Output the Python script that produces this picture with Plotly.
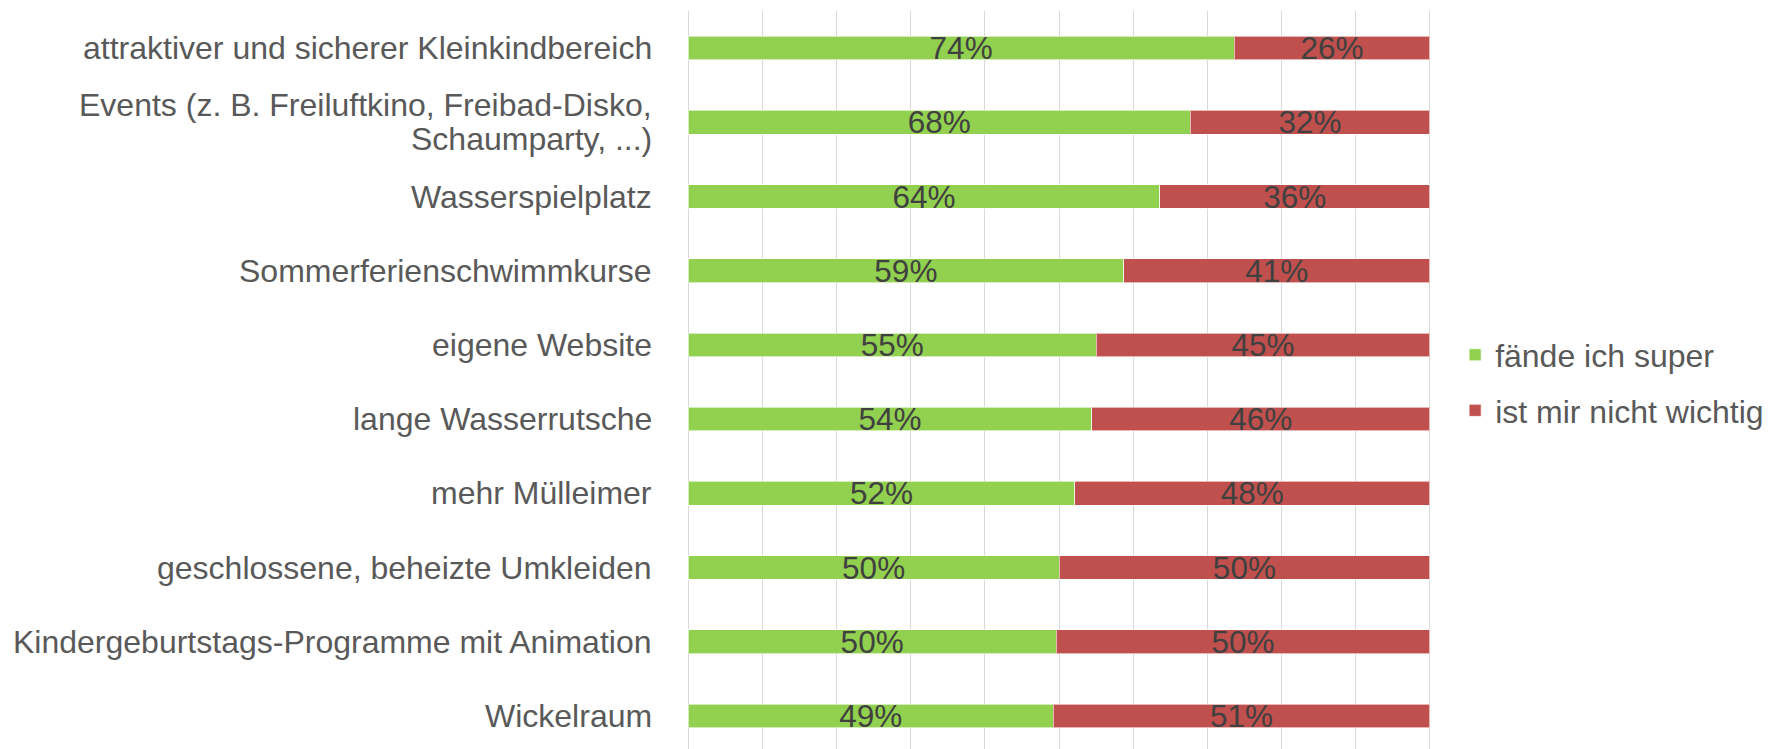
import plotly.graph_objects as go

categories = [
    "attraktiver und sicherer Kleinkindbereich",
    "Events (z. B. Freiluftkino, Freibad-Disko,<br>Schaumparty, ...)",
    "Wasserspielplatz",
    "Sommerferienschwimmkurse",
    "eigene Website",
    "lange Wasserrutsche",
    "mehr Mülleimer",
    "geschlossene, beheizte Umkleiden",
    "Kindergeburtstags-Programme mit Animation",
    "Wickelraum",
]
super_vals = [73.6, 67.7, 63.6, 58.7, 55.0, 54.4, 52.1, 50.0, 49.6, 49.2]
nicht_vals = [26.4, 32.3, 36.4, 41.3, 45.0, 45.6, 47.9, 50.0, 50.4, 50.8]
series_names = ["fände ich super", "ist mir nicht wichtig"]
colors = ["#92D050", "#C0504D"]

FONT = "Liberation Sans, Arial, sans-serif"
LABEL_COLOR = "#595959"

fig = go.Figure()
for name, vals, col, grp in zip(series_names, [super_vals, nicht_vals], colors, ["a", "b"]):
    fig.add_trace(go.Bar(
        y=categories, x=vals, name=name, orientation="h",
        marker=dict(color=col, line=dict(color="rgba(255,255,255,0.6)", width=1)),
        texttemplate="%{x:.0f}%", textposition="inside", insidetextanchor="middle",
        constraintext="none", cliponaxis=False,
        textfont=dict(family=FONT, size=31.5, color="#404040"),
        legendgroup=grp, hoverinfo="skip",
    ))

# category labels as annotations (tighter line spacing for the two-line label)
annotations = []
for cat in categories:
    lines = cat.split("<br>")
    n = len(lines)
    for i, line in enumerate(lines):
        shift = (n - 1) * 17 - i * 34
        annotations.append(dict(
            x=0, xref="paper", y=cat, yref="y", text=line, showarrow=False,
            xanchor="right", yanchor="middle", xshift=-32, yshift=shift,
            font=dict(family=FONT, size=32, color=LABEL_COLOR),
        ))

fig.update_layout(
    width=1771, height=741,
    barmode="stack", bargap=0.68,
    margin=dict(l=678, r=347, t=3, b=0, autoexpand=False),
    paper_bgcolor="white", plot_bgcolor="white",
    font=dict(family=FONT, size=32, color=LABEL_COLOR),
    legend=dict(x=1.031, y=0.496, xanchor="left", yanchor="middle",
                font=dict(family=FONT, size=32, color=LABEL_COLOR),
                tracegroupgap=11, bgcolor="rgba(0,0,0,0)"),
    showlegend=True,
    annotations=annotations,
)
fig.update_xaxes(range=[-0.3, 100.3], tick0=0, dtick=10, showticklabels=False, showgrid=True,
                 gridcolor="#D9D9D9", gridwidth=1, zeroline=False, showline=False)
fig.update_yaxes(type="category", categoryorder="array", categoryarray=categories,
                 range=[9.446, -0.5], showgrid=False, zeroline=False, showline=False,
                 ticks="", showticklabels=False)

fig.write_html("out.html")
